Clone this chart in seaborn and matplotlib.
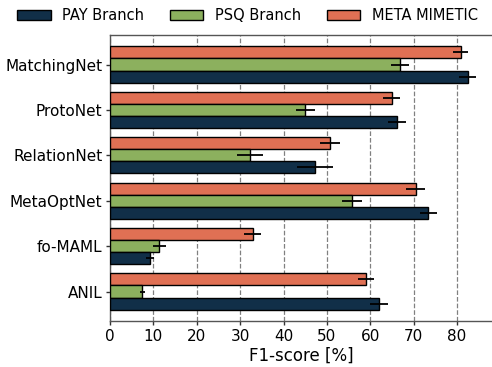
import matplotlib
matplotlib.use("Agg")
import matplotlib.pyplot as plt
import seaborn as sns
import pandas as pd

models = ["MatchingNet", "ProtoNet", "RelationNet", "MetaOptNet", "fo-MAML", "ANIL"]
series = ["PAY Branch", "PSQ Branch", "META MIMETIC"]

pay_f1 = [82.4, 66.1, 47.2, 73.4, 9.3, 62.0]
pay_err = [1.9, 2.1, 4.1, 2.0, 0.9, 2.1]
psq_f1 = [66.8, 45.0, 32.3, 55.8, 11.4, 7.4]
psq_err = [2.1, 2.2, 3.0, 2.3, 1.4, 0.6]
meta_f1 = [80.8, 64.9, 50.7, 70.5, 32.9, 59.0]
meta_err = [1.8, 2.0, 2.2, 2.2, 2.0, 1.8]

colors = {"PAY Branch": "#112f48", "PSQ Branch": "#8cb05e", "META MIMETIC": "#e07054"}

values = {"PAY Branch": pay_f1, "PSQ Branch": psq_f1, "META MIMETIC": meta_f1}
errors = {"PAY Branch": pay_err, "PSQ Branch": psq_err, "META MIMETIC": meta_err}

rows = []
for s in series:
    for m, v in zip(models, values[s]):
        rows.append({"model": m, "series": s, "f1": v})
df = pd.DataFrame(rows)

sns.set_style("white")
plt.rcParams["font.family"] = ["DejaVu Sans"]
plt.rcParams["text.color"] = "black"
plt.rcParams["axes.labelcolor"] = "black"
plt.rcParams["xtick.color"] = "black"
plt.rcParams["ytick.color"] = "black"

fig = plt.figure(figsize=(4.92, 3.67), dpi=100)
ax = fig.add_axes([0.2236, 0.1253, 0.776, 0.7793])

# META on top inside each group, PAY at the bottom
draw_order = ["META MIMETIC", "PSQ Branch", "PAY Branch"]
sns.barplot(data=df, y="model", x="f1", hue="series", hue_order=draw_order,
            order=models, palette=colors, orient="h", errorbar=None,
            saturation=1, edgecolor="black", linewidth=1.0, width=0.8,
            ax=ax, zorder=3)

for cont, s in zip(ax.containers, draw_order):
    ys = [p.get_y() + p.get_height() / 2 for p in cont.patches]
    xs = [p.get_width() for p in cont.patches]
    ax.errorbar(xs, ys, xerr=errors[s], fmt="none", ecolor="black",
                elinewidth=1.3, capsize=0, zorder=4)

ax.set_xlim(0, 88)
ax.set_ylim(5.65, -0.65)
ax.set_xticks(range(0, 90, 10))
ax.set_xlabel("F1-score [%]", fontsize=12, labelpad=2)
ax.set_ylabel("")
ax.tick_params(axis="both", labelsize=11, length=3, width=1, pad=2.5,
               color="#333333", labelcolor="black", left=True, bottom=True)
ax.grid(axis="x", linestyle="--", color="gray", linewidth=0.9, zorder=0)
ax.grid(axis="y", visible=False)
ax.set_axisbelow(True)
for side in ["left", "bottom", "top"]:
    ax.spines[side].set_visible(True)
    ax.spines[side].set_color("#555555")
    ax.spines[side].set_linewidth(1.0)
ax.spines["right"].set_visible(False)

handles, labels = ax.get_legend_handles_labels()
lut = dict(zip(labels, handles))
ax.legend([lut[s] for s in series], series, loc="lower center",
          bbox_to_anchor=(0.36, 1.015), ncol=3, frameon=False, fontsize=10.5,
          handlelength=2.3, handletextpad=0.8, columnspacing=1.75,
          borderaxespad=0.1)

fig.savefig("out.png", dpi=100)
